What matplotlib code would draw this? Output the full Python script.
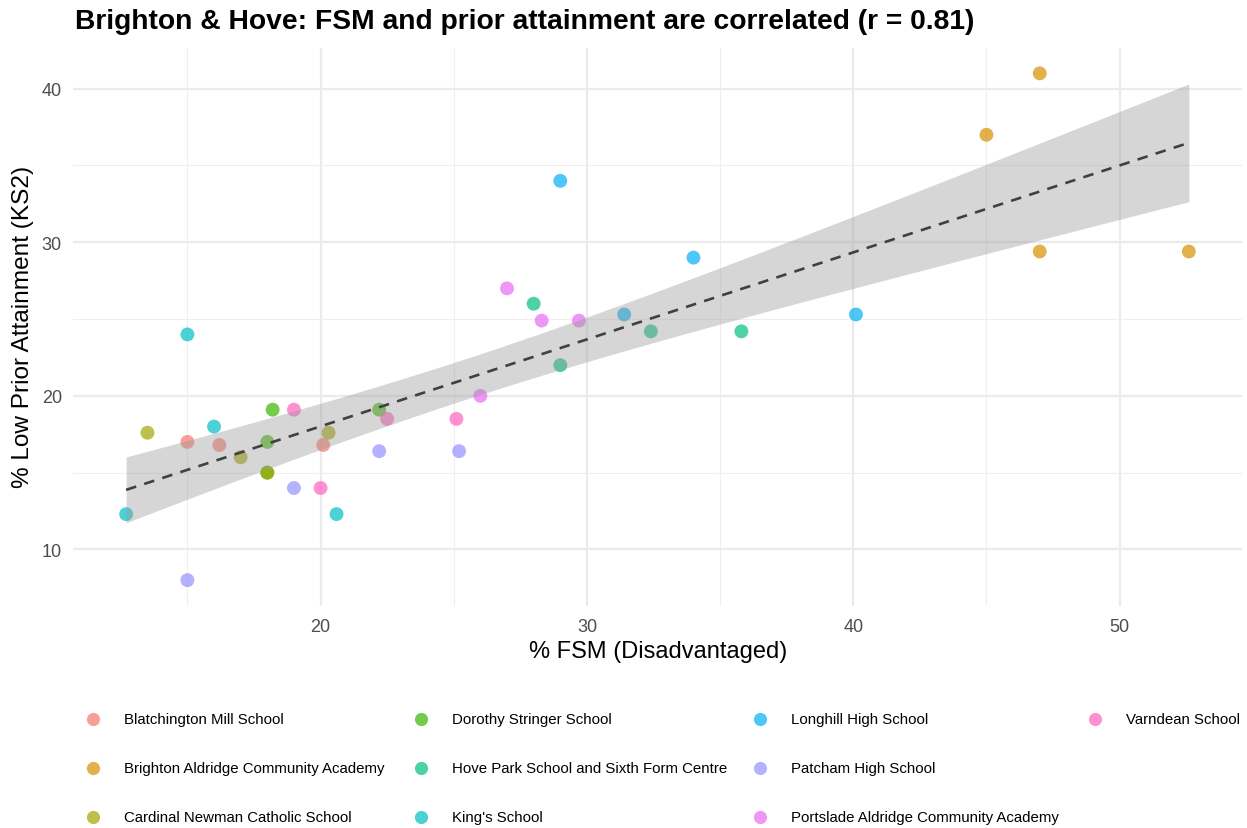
import numpy as np
import matplotlib
matplotlib.use("Agg")
import matplotlib.pyplot as plt
from matplotlib.lines import Line2D

plt.rcParams['font.family'] = ['Liberation Sans', 'DejaVu Sans']

schools = [
    "Blatchington Mill School",
    "Brighton Aldridge Community Academy",
    "Cardinal Newman Catholic School",
    "Dorothy Stringer School",
    "Hove Park School and Sixth Form Centre",
    "King's School",
    "Longhill High School",
    "Patcham High School",
    "Portslade Aldridge Community Academy",
    "Varndean School",
]
colors = ["#F8766D", "#D89000", "#A3A500", "#39B600", "#00BF7D",
          "#00BFC4", "#00B0F6", "#9590FF", "#E76BF3", "#FF62BC"]

fsm = {
    "Blatchington Mill School": [15.0, 16.2, 20.1],
    "Brighton Aldridge Community Academy": [45.0, 47.0, 47.0, 52.6],
    "Cardinal Newman Catholic School": [13.5, 17.0, 20.3, 18.0],
    "Dorothy Stringer School": [18.2, 18.0, 22.2, 18.0],
    "Hove Park School and Sixth Form Centre": [28.0, 29.0, 32.4, 35.8],
    "King's School": [12.7, 15.0, 16.0, 20.6],
    "Longhill High School": [29.0, 34.0, 31.4, 40.1],
    "Patcham High School": [15.0, 19.0, 22.2, 25.2],
    "Portslade Aldridge Community Academy": [27.0, 28.3, 29.7, 26.0],
    "Varndean School": [19.0, 20.0, 25.1, 22.5],
}
low_prior = {
    "Blatchington Mill School": [17.0, 16.8, 16.8],
    "Brighton Aldridge Community Academy": [37.0, 41.0, 29.4, 29.4],
    "Cardinal Newman Catholic School": [17.6, 16.0, 17.6, 15.0],
    "Dorothy Stringer School": [19.1, 17.0, 19.1, 15.0],
    "Hove Park School and Sixth Form Centre": [26.0, 22.0, 24.2, 24.2],
    "King's School": [12.3, 24.0, 18.0, 12.3],
    "Longhill High School": [34.0, 29.0, 25.3, 25.3],
    "Patcham High School": [8.0, 14.0, 16.4, 16.4],
    "Portslade Aldridge Community Academy": [27.0, 24.9, 24.9, 20.0],
    "Varndean School": [19.1, 14.0, 18.5, 18.5],
}

title = "Brighton & Hove: FSM and prior attainment are correlated (r = 0.81)"
xlabel = "% FSM (Disadvantaged)"
ylabel = "% Low Prior Attainment (KS2)"
xticks = [20, 30, 40, 50]
yticks = [10, 20, 30, 40]

W, H = 1247, 829
fig = plt.figure(figsize=(W / 100, H / 100), dpi=100)
fig.patch.set_facecolor("white")
ax = fig.add_axes([73 / W, 1 - 606.5 / H, (1242 - 73) / W, (606.5 - 49) / H])

allx = np.concatenate([fsm[s] for s in schools])
ally = np.concatenate([low_prior[s] for s in schools])

for s, c in zip(schools, colors):
    zo = 2.1 if s.startswith("Cardinal") else 2
    ax.scatter(fsm[s], low_prior[s], s=100, color=c, alpha=0.7,
               edgecolors="none", zorder=zo)

# linear fit with 95% CI
n = len(allx)
b, a = np.polyfit(allx, ally, 1)
xs = np.linspace(allx.min(), allx.max(), 100)
ys = a + b * xs
resid = ally - (a + b * allx)
sigma = np.sqrt(np.sum(resid ** 2) / (n - 2))
sxx = np.sum((allx - allx.mean()) ** 2)
se = sigma * np.sqrt(1 / n + (xs - allx.mean()) ** 2 / sxx)
df = n - 2
z = 1.959964
tq = z + (z ** 3 + z) / (4 * df) + (5 * z ** 5 + 16 * z ** 3 + 3 * z) / (96 * df ** 2)
ax.fill_between(xs, ys - tq * se, ys + tq * se, color="#999999", alpha=0.4,
                linewidth=0, zorder=3)
ax.plot(xs, ys, color="#404040", lw=1.9, dashes=(4.0, 3.2), zorder=4)

xr = allx.max() - allx.min()
yr = ally.max() - ally.min()
ax.set_xlim(allx.min() - 0.05 * xr, allx.max() + 0.05 * xr)
ax.set_ylim(ally.min() - 0.05 * yr, ally.max() + 0.05 * yr)

ax.set_xticks(xticks)
ax.set_yticks(yticks)
ax.set_xticks([15, 25, 35, 45], minor=True)
ax.set_yticks([15, 25, 35], minor=True)
ax.grid(which="major", color="#EBEBEB", lw=1.6, zorder=0)
ax.grid(which="minor", color="#EFEFEF", lw=0.8, zorder=0)
ax.set_axisbelow(True)
for sp in ax.spines.values():
    sp.set_visible(False)
ax.tick_params(which="both", length=0)
ax.tick_params(axis="both", labelsize=13, labelcolor="#4D4D4D")
ax.tick_params(axis="x", pad=9)
ax.tick_params(axis="y", pad=8)

fig.text(658 / W, 1 - 652 / H, xlabel, ha="center", va="center", fontsize=17)
fig.text(23 / W, 1 - 327 / H, ylabel, ha="center", va="center",
         fontsize=17.6, rotation=90)
fig.text(75 / W, 1 - 22 / H, title, ha="left", va="center",
         fontsize=20.3, fontweight="bold")

# legend (column-major, 3 rows)
col_x = [93, 421, 760, 1095]
row_y = [720, 769, 818]
for i, (s, c) in enumerate(zip(schools, colors)):
    col, row = divmod(i, 3)
    mx, my = col_x[col], row_y[row]
    fig.add_artist(Line2D([mx / W], [1 - my / H], marker="o", markersize=9.5,
                          color=c, alpha=0.7, markeredgewidth=0,
                          linestyle="none", transform=fig.transFigure))
    fig.text((mx + 31) / W, 1 - my / H, s, ha="left", va="center", fontsize=10.8)

fig.savefig("out.png", dpi=100, facecolor="white")
